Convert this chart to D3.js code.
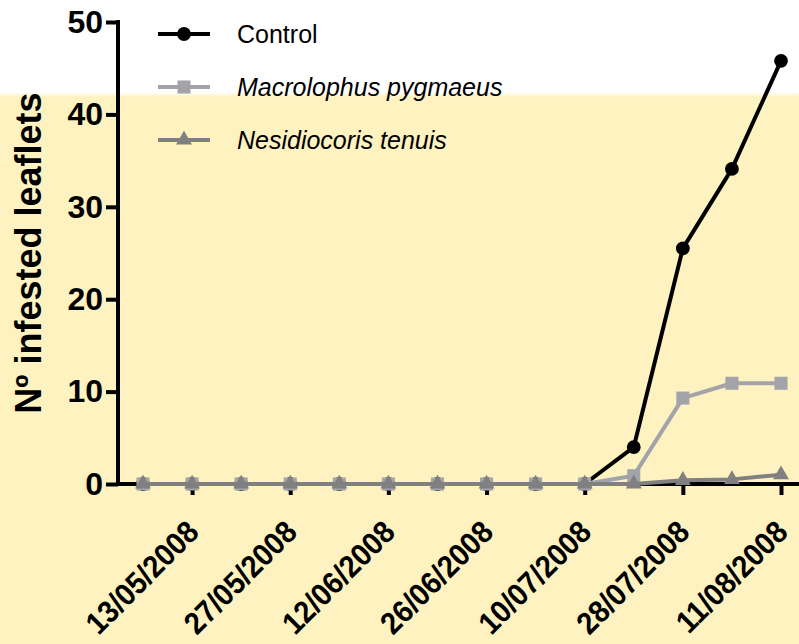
<!doctype html>
<html lang="en">
    <head>
        <meta charset="utf-8">
        <script src="https://d3js.org/d3.v7.min.js"></script>
        <style>
            body { margin: 0; background: #ffffff; }
            text { font-family: "Liberation Sans", Arial, sans-serif; }
        </style>
    </head>
    <body>
        <div id="my_dataviz"></div>
        <script>
            // sampling dates (only every other one is labelled on the axis)
            var dateLabels = ["", "13/05/2008", "", "27/05/2008", "", "12/06/2008", "",
                              "26/06/2008", "", "10/07/2008", "", "28/07/2008", "", "11/08/2008"]

            // infested leaflets per sampling date
            var control      = [0, 0, 0, 0, 0, 0, 0, 0, 0, 0, 4.0, 25.5, 34.1, 45.8]
            var macrolophus  = [0, 0, 0, 0, 0, 0, 0, 0, 0, 0, 0.9, 9.3, 10.9, 10.9]
            var nesidiocoris = [0, 0, 0, 0, 0, 0, 0, 0, 0, 0, 0, 0.4, 0.5, 1.0]

            var yTicks = [0, 10, 20, 30, 40, 50]

            var seriesNames = ["Control", "Macrolophus pygmaeus", "Nesidiocoris tenuis"]

            var width = 799
            var height = 644

            var svg = d3.select("#my_dataviz")
                .append("svg")
                .attr("width", width)
                .attr("height", height)

            // background: white top band, pale yellow below
            var grad = svg.append("defs").append("linearGradient")
                .attr("id", "bg").attr("x1", 0).attr("y1", 0).attr("x2", 0).attr("y2", 1)
            grad.append("stop").attr("offset", "0").attr("stop-color", "#ffffff")
            grad.append("stop").attr("offset", "1").attr("stop-color", "#fdf2c0")
            svg.append("rect").attr("x", 0).attr("y", 0).attr("width", width).attr("height", height).attr("fill", "#ffffff")
            svg.append("rect").attr("x", 0).attr("y", 92).attr("width", width).attr("height", 5).attr("fill", "url(#bg)")
            svg.append("rect").attr("x", 0).attr("y", 97).attr("width", width).attr("height", height - 97).attr("fill", "#fdf2c0")

            // scales
            var x = d3.scalePoint()
                .domain(d3.range(dateLabels.length))
                .range([143, 781])

            var y = d3.scaleLinear()
                .domain([0, 50])
                .range([484, 22])

            // y axis
            var yAxis = svg.append("g")
                .attr("transform", "translate(118,0)")
                .call(d3.axisLeft(y).tickValues(yTicks).tickSize(12).tickSizeOuter(0).tickPadding(3))
            yAxis.select(".domain").attr("stroke-width", 4).attr("d", "M0," + (y(50) - 2) + "V" + (y(0) + 2))
            yAxis.selectAll(".tick line").attr("stroke-width", 4)
            yAxis.selectAll(".tick text")
                .style("font-size", "32px")
                .style("font-weight", "bold")
                .attr("fill", "#000")

            // x axis
            var xAxis = svg.append("g")
                .attr("transform", "translate(0,484)")
                .call(d3.axisBottom(x)
                    .tickValues(d3.range(dateLabels.length).filter(function(i){ return dateLabels[i] !== "" }))
                    .tickFormat(function(i){ return dateLabels[i] })
                    .tickSize(11)
                    .tickSizeOuter(0))
            xAxis.select(".domain").attr("stroke-width", 4).attr("d", "M116,0H" + width)
            xAxis.selectAll(".tick line").attr("stroke-width", 4)
            xAxis.selectAll(".tick text")
                .attr("x", 0).attr("y", 0).attr("dy", 0)
                .attr("text-anchor", "end")
                .attr("transform", "translate(8,50) rotate(-45) scale(0.93,1)")
                .style("font-size", "31px")
                .style("font-weight", "bold")
                .attr("fill", "#000")

            // y axis title
            svg.append("text")
                .attr("transform", "translate(41,253) rotate(-90)")
                .attr("text-anchor", "middle")
                .style("font-size", "36px")
                .style("font-weight", "bold")
                .text("Nº infested leaflets")

            var line = d3.line()
                .x(function(d, i){ return x(i) })
                .y(function(d){ return y(d) })

            var series = [
                { name: seriesNames[0], values: control,      color: "#000000", shape: d3.symbolCircle,   size: 150 },
                { name: seriesNames[1], values: macrolophus,  color: "#a3a3aa", shape: d3.symbolSquare,   size: 170 },
                { name: seriesNames[2], values: nesidiocoris, color: "#808080", shape: d3.symbolTriangle, size: 110 }
            ]

            series.forEach(function(s) {
                svg.append("path")
                    .datum(s.values)
                    .attr("fill", "none")
                    .attr("stroke", s.color)
                    .attr("stroke-width", 4)
                    .attr("stroke-linejoin", "round")
                    .attr("d", line)

                svg.selectAll(null)
                    .data(s.values)
                    .enter()
                    .append("path")
                    .attr("transform", function(d, i){ return "translate(" + x(i) + "," + y(d) + ")" })
                    .attr("d", d3.symbol().type(s.shape).size(s.size))
                    .attr("fill", s.color)
            })

            // legend
            var legend = svg.append("g")
            series.forEach(function(s, i) {
                var ly = 34 + i * 53
                legend.append("line")
                    .attr("x1", 158).attr("x2", 210)
                    .attr("y1", ly).attr("y2", ly)
                    .attr("stroke", s.color)
                    .attr("stroke-width", 4)
                legend.append("path")
                    .attr("transform", "translate(184," + ly + ")")
                    .attr("d", d3.symbol().type(s.shape).size(s.size))
                    .attr("fill", s.color)
                legend.append("text")
                    .attr("x", 237)
                    .attr("y", ly + 9)
                    .style("font-size", "25px")
                    .style("font-style", i === 0 ? "normal" : "italic")
                    .text(s.name)
            })
        </script>
    </body>
</html>
